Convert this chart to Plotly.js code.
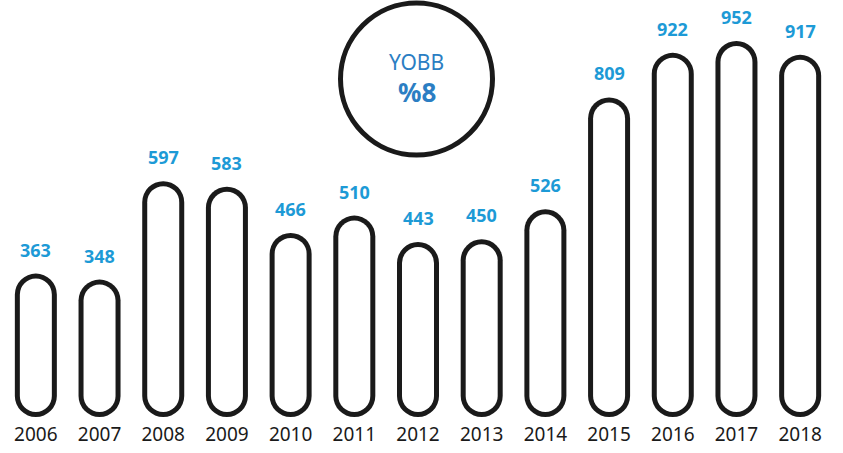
<!DOCTYPE html>
<html>
<head>
<meta charset="utf-8">
<script src="https://cdn.plot.ly/plotly-3.0.1.min.js"></script>
<style>
  html, body { margin: 0; padding: 0; background: #ffffff; }
  #chart { width: 843px; height: 453px; }
</style>
</head>
<body>
<div id="chart"></div>
<script>
// ---- data ----
const years = ["2006","2007","2008","2009","2010","2011","2012","2013","2014","2015","2016","2017","2018"];
const values = [363, 348, 597, 583, 466, 510, 443, 450, 526, 809, 922, 952, 917];
const cagrTitle = "YOBB";
const cagrValue = "%8";

// ---- layout geometry ----
const W = 843, H = 453;
const M = { l: 4, r: 11, t: 0, b: 36 };
const plotH = H - M.t - M.b;
const plotW = W - M.l - M.r;
const pxPerUnit = 0.395;
const yMax = plotH / pxPerUnit;
const pxPerCat = plotW / years.length;

const outerPx = 42, strokePx = 5;
const outerW = outerPx / pxPerCat;
const innerW = (outerPx - 2 * strokePx) / pxPerCat;
const inset = strokePx / pxPerUnit;
const xIdx = years.map((y, i) => i);

function barTrace(base, y, width, color, radius) {
  return {
    type: 'bar', x: years, y: y, base: base, width: width,
    marker: { color: color, line: { width: 0 }, cornerradius: radius },
    hoverinfo: 'skip', showlegend: false
  };
}

const traces = [
  barTrace(values.map(v => 0), values, outerW, '#1a1a1a', outerPx / 2),
  barTrace(values.map(v => inset), values.map(v => v - 2 * inset), innerW, '#ffffff', outerPx / 2 - strokePx)
];

const annotations = xIdx.map(i => ({
  x: i, y: values[i], xref: 'x', yref: 'y',
  text: String(values[i]), showarrow: false,
  yanchor: 'bottom', yshift: 10,
  font: { family: 'Noto Sans', size: 18, color: '#1d9ad6', weight: 700 }
}));

// circle centre
const cxPx = 416.5, cyPx = 79;
const cx = (cxPx - M.l) / plotW;
annotations.push({
  x: cx, y: 1 - (62.5 - M.t) / plotH, xref: 'paper', yref: 'paper',
  text: cagrTitle, showarrow: false, yanchor: 'middle', xanchor: 'center',
  font: { family: 'Noto Sans', size: 21, color: '#2b7ec3', weight: 400 }
});
annotations.push({
  x: cx, y: 1 - (92 - M.t) / plotH, xref: 'paper', yref: 'paper',
  text: cagrValue, showarrow: false, yanchor: 'middle', xanchor: 'center',
  font: { family: 'Noto Sans', size: 26, color: '#2b7ec3', weight: 700 }
});

const rOut = 78.5 - strokePx / 2;
const layout = {
  width: W, height: H,
  margin: M,
  paper_bgcolor: '#ffffff', plot_bgcolor: '#ffffff',
  barmode: 'overlay',
  showlegend: false,
  xaxis: {
    type: 'category', categoryorder: 'array', categoryarray: years,
    range: [-0.5, years.length - 0.5],
    showgrid: false, zeroline: false, showline: false, ticks: '',
    ticklabelstandoff: 4,
    tickfont: { family: 'Noto Sans', size: 19, color: '#1a1a1a' },
    fixedrange: true
  },
  yaxis: {
    range: [0, yMax], showgrid: false, zeroline: false, showline: false,
    showticklabels: false, ticks: '', fixedrange: true
  },
  shapes: [{
    type: 'circle', xref: 'paper', yref: 'paper',
    x0: (cxPx - rOut - M.l) / plotW, x1: (cxPx + rOut - M.l) / plotW,
    y0: 1 - (cyPx + rOut - M.t) / plotH, y1: 1 - (cyPx - rOut - M.t) / plotH,
    line: { color: '#1a1a1a', width: strokePx }, fillcolor: 'rgba(0,0,0,0)'
  }],
  annotations: annotations
};

Plotly.newPlot('chart', traces, layout, { staticPlot: true, displayModeBar: false });
</script>
</body>
</html>
